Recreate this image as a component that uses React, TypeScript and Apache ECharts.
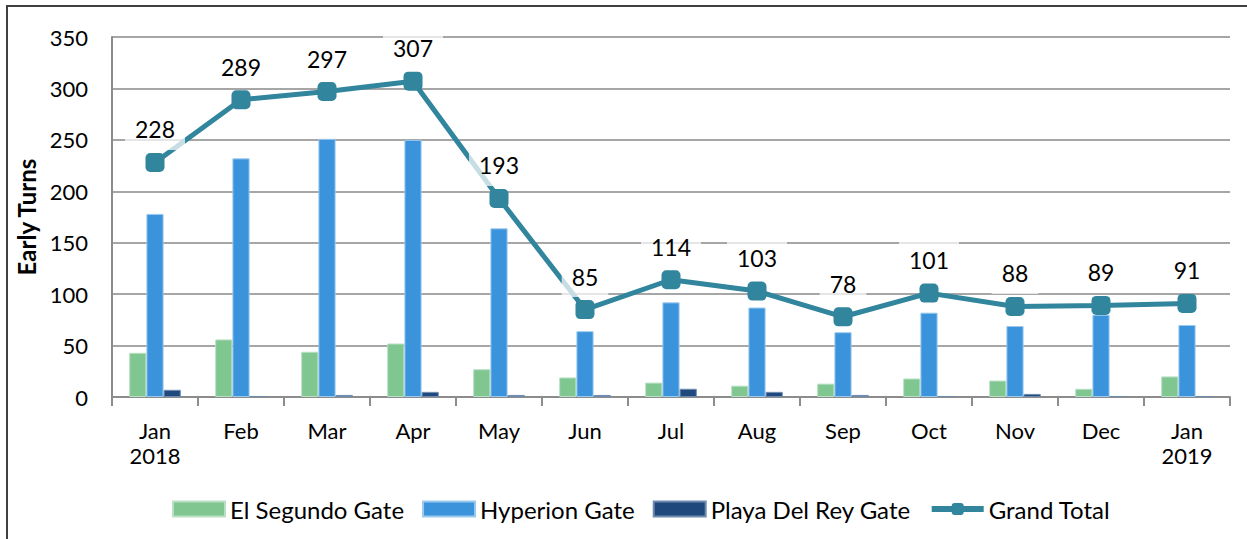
import React, { useEffect, useRef } from "react";
import * as echarts from "echarts";

const months = ["Jan\n2018", "Feb", "Mar", "Apr", "May", "Jun", "Jul", "Aug", "Sep", "Oct", "Nov", "Dec", "Jan\n2019"];
const elSegundo = [43, 56, 44, 52, 27, 19, 14, 11, 13, 18, 16, 8, 20];
const hyperion = [178, 232, 251, 250, 164, 64, 92, 87, 63, 82, 69, 80, 70];
const playaDelRey = [7, 1, 2, 5, 2, 2, 8, 5, 2, 1, 3, 1, 1];
const grandTotal = [228, 289, 297, 307, 193, 85, 114, 103, 78, 101, 88, 89, 91];
const yTicks = { min: 0, max: 350, interval: 50 };

const FONT = "Lato, 'Open Sans', sans-serif";

export default function App() {
  const ref = useRef<HTMLDivElement>(null);
  useEffect(() => {
    if (!ref.current) return;
    const chart = echarts.init(ref.current, undefined, { renderer: "svg" });
    chart.setOption({
      animation: false,
      backgroundColor: "#ffffff",
      textStyle: { fontFamily: FONT },
      graphic: [
        {
          type: "rect",
          shape: { x: 7, y: 6, width: 1300, height: 600 },
          style: { fill: "none", stroke: "#404040", lineWidth: 2 },
          silent: true,
        },
      ],
      grid: { left: 112, right: 17, top: 37, bottom: 142 },
      legend: {
        bottom: 13,
        left: 167,
        itemWidth: 52,
        itemHeight: 15,
        itemGap: 18,
        textStyle: { fontFamily: FONT, fontSize: 24, color: "#000" },
        data: [
          { name: "El Segundo Gate", icon: "rect" },
          { name: "Hyperion Gate", icon: "rect" },
          { name: "Playa Del Rey Gate", icon: "rect" },
          { name: "Grand Total", lineStyle: { width: 6, color: "#31859c" } },
        ],
      },
      xAxis: {
        type: "category",
        data: months,
        boundaryGap: true,
        axisLine: { show: true, lineStyle: { color: "#8c8c8c", width: 2 } },
        axisTick: { show: true, length: 9, lineStyle: { color: "#8c8c8c", width: 2 } },
        axisLabel: { fontFamily: FONT, fontSize: 22, color: "#000", margin: 21, lineHeight: 25, interval: 0 },
      },
      yAxis: {
        type: "value",
        min: yTicks.min,
        max: yTicks.max,
        interval: yTicks.interval,
        name: "Early Turns",
        nameLocation: "middle",
        nameRotate: 90,
        nameGap: 74,
        nameTextStyle: { fontFamily: FONT, fontSize: 24, fontWeight: "bold", color: "#000" },
        axisLine: { show: true, lineStyle: { color: "#8c8c8c", width: 2 } },
        axisTick: { show: false },
        axisLabel: { fontFamily: FONT, fontSize: 22, color: "#000", margin: 24 },
        splitLine: { show: true, lineStyle: { color: "#a6a6a6", width: 2 } },
      },
      series: [
        {
          name: "El Segundo Gate",
          type: "bar",
          data: elSegundo,
          barGap: "0%",
          barCategoryGap: "40%",
          itemStyle: { color: "#7fc691", borderColor: "#b9e0c3", borderWidth: 1 },
        },
        {
          name: "Hyperion Gate",
          type: "bar",
          data: hyperion,
          itemStyle: { color: "#3b94db", borderColor: "#9cc9ee", borderWidth: 1 },
        },
        {
          name: "Playa Del Rey Gate",
          type: "bar",
          data: playaDelRey,
          itemStyle: { color: "#1f497d", borderColor: "#6f8cb0", borderWidth: 1 },
        },
        {
          name: "Grand Total",
          type: "line",
          data: grandTotal,
          symbol: "roundRect",
          symbolSize: 19,
          lineStyle: { color: "#31859c", width: 5 },
          itemStyle: { color: "#31859c" },
          z: 5,
          label: {
            show: true,
            position: "top",
            distance: 3,
            fontFamily: FONT,
            fontSize: 23,
            color: "#000",
            backgroundColor: "rgba(255,255,255,0.72)",
            padding: [9, 10],
          },
        },
      ],
    });
    return () => chart.dispose();
  }, []);
  return <div ref={ref} style={{ position: "fixed", left: 0, top: 0, width: 1247, height: 539 }} />;
}
